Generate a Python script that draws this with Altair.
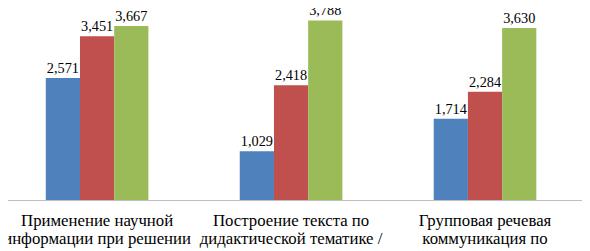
import altair as alt
import pandas as pd

categories = [
    "Применение научной|информации при решении",
    "Построение текста по|дидактической тематике /",
    "Групповая речевая|коммуникация по",
]
series = ["Ряд 1", "Ряд 2", "Ряд 3"]
series_colors = ["#4F81BD", "#C0504D", "#9BBB59"]
values_s1 = [2.571, 1.029, 1.714]
values_s2 = [3.451, 2.418, 2.284]
values_s3 = [3.667, 3.788, 3.630]

rows = []
for s, vals in zip(series, [values_s1, values_s2, values_s3]):
    for c, v in zip(categories, vals):
        rows.append({"cat": c, "series": s, "value": v,
                     "label": f"{v:.3f}".replace(".", ",")})
df = pd.DataFrame(rows)

FONT = "Liberation Serif"

x_enc = alt.X(
    "cat:N",
    sort=categories,
    scale=alt.Scale(paddingInner=0.471, paddingOuter=0.2355),
    axis=alt.Axis(
        title=None,
        labelAngle=0,
        ticks=False,
        domain=True,
        domainColor="#bfbfbf",
        domainWidth=1,
        labelFont=FONT,
        labelFontSize=17,
        labelColor="#000000",
        labelBaseline="alphabetic",
        labelPadding=26,
        labelLineHeight=18,
        labelLimit=0,
        labelOverlap=False,
        labelExpr="split(datum.label, '|')",
    ),
)
xoff = alt.XOffset("series:N", sort=series,
                   scale=alt.Scale(paddingInner=0, paddingOuter=0))
y_enc = alt.Y(
    "value:Q",
    scale=alt.Scale(domain=[0, 4.18], nice=False, zero=True),
    axis=alt.Axis(title=None, labels=False, ticks=False, grid=False,
                  domain=True, domainColor="#bfbfbf"),
)

base = alt.Chart(df)
bars = base.mark_bar().encode(
    x=x_enc,
    xOffset=xoff,
    y=y_enc,
    color=alt.Color("series:N", sort=series,
                    scale=alt.Scale(domain=series, range=series_colors),
                    legend=None),
)
texts = base.mark_text(
    font=FONT, fontSize=14.5, color="#000000",
    baseline="alphabetic", dy=-5,
).encode(
    x=alt.X("cat:N", sort=categories),
    xOffset=alt.XOffset("series:N", sort=series),
    y=alt.Y("value:Q"),
    text="label:N",
)

chart = alt.layer(bars, texts).properties(
    width=590,
    height=201,
    autosize=alt.AutoSizeParams(type="none"),
    padding={"left": -8, "top": -8, "right": 0, "bottom": 52},
).configure_view(stroke=None).configure(background="#ffffff")

chart.save("out.html", embed_options={"renderer": "svg", "actions": False})
